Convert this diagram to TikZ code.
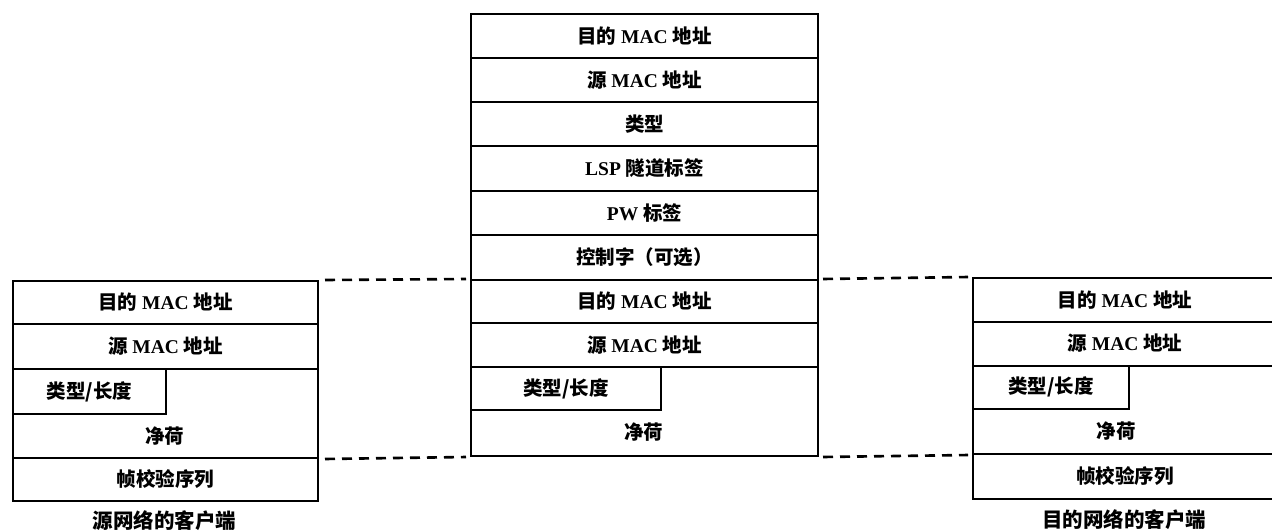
\documentclass[tikz,border=0pt]{standalone}
\usepackage{fontspec}
\setmainfont{Liberation Serif}
\newfontfamily\cjk{Noto Sans CJK SC}
\newcommand\zh[1]{{\cjk #1}}
\tikzset{
  field/.style={draw, line width=2pt, anchor=north west, inner sep=0pt, fill=white,
    font=\bfseries\fontsize{19.5}{21}\selectfont},
  txt/.style={inner sep=0pt, font=\bfseries\fontsize{19.5}{21}\selectfont},
  captext/.style={inner sep=0pt, font=\bfseries\fontsize{20.5}{22}\selectfont},
  link/.style={line width=2.6pt, dash pattern=on 10pt off 7pt}
}
\begin{document}
\begin{tikzpicture}[x=1pt,y=-1pt]
\useasboundingbox (0,0) rectangle (1272,531);
% left frame
\node[field, minimum width=305pt, minimum height=43pt] (l1) at (12,280) {\zh{目的} MAC \zh{地址}};
\node[field, minimum width=305pt, minimum height=45pt] (l2) at (12,323) {\zh{源} MAC \zh{地址}};
\node[field, minimum width=305pt, minimum height=89pt] (l3) at (12,368) {};
\node[field, minimum width=153pt, minimum height=45pt] (l4) at (12,368) {\zh{类型/长度}};
\node[txt] (l3t) at (164.5,436) {\zh{净荷}};
\node[field, minimum width=305pt, minimum height=43pt] (l5) at (12,457) {\zh{帧校验序列}};
\node[captext] (lc) at (164.5,521) {\zh{源网络的客户端}};
% middle frame
\node[field, minimum width=347pt, minimum height=44pt] (m1) at (470,13) {\zh{目的} MAC \zh{地址}};
\node[field, minimum width=347pt, minimum height=44pt] (m2) at (470,57) {\zh{源} MAC \zh{地址}};
\node[field, minimum width=347pt, minimum height=44pt] (m3) at (470,101) {\zh{类型}};
\node[field, minimum width=347pt, minimum height=45pt] (m4) at (470,145) {LSP \zh{隧道标签}};
\node[field, minimum width=347pt, minimum height=44pt] (m5) at (470,190) {PW \zh{标签}};
\node[field, minimum width=347pt, minimum height=45pt] (m6) at (470,234) {\zh{控制字（可选）}};
\node[field, minimum width=347pt, minimum height=43pt] (m7) at (470,279) {\zh{目的} MAC \zh{地址}};
\node[field, minimum width=347pt, minimum height=44pt] (m8) at (470,322) {\zh{源} MAC \zh{地址}};
\node[field, minimum width=347pt, minimum height=89pt] (m9) at (470,366) {};
\node[field, minimum width=190pt, minimum height=43pt] (m10) at (470,366) {\zh{类型/长度}};
\node[txt] (m9t) at (643.5,432) {\zh{净荷}};
% right frame
\node[field, minimum width=304pt, minimum height=43.5pt] (r1) at (972,277) {\zh{目的} MAC \zh{地址}};
\node[field, minimum width=304pt, minimum height=44pt] (r2) at (972,320.5) {\zh{源} MAC \zh{地址}};
\node[field, minimum width=304pt, minimum height=88.5pt] (r3) at (972,364.5) {};
\node[field, minimum width=156pt, minimum height=43.5pt] (r4) at (972,364.5) {\zh{类型/长度}};
\node[txt] (r3t) at (1116,431) {\zh{净荷}};
\node[field, minimum width=304pt, minimum height=45pt] (r5) at (972,453) {\zh{帧校验序列}};
\node[captext] (rc) at (1124,520) {\zh{目的网络的客户端}};
% dashed connectors
\draw[link] ([xshift=6pt]l1.north east) -- ([xshift=-4pt]m7.north west);
\draw[link] ([xshift=6pt]l3.south east) -- ([xshift=-4pt]m9.south west);
\draw[link] ([xshift=4pt]m7.north east) -- ([xshift=-4pt]r1.north west);
\draw[link] ([xshift=4pt]m9.south east) -- ([xshift=-4pt]r3.south west);
\end{tikzpicture}
\end{document}
